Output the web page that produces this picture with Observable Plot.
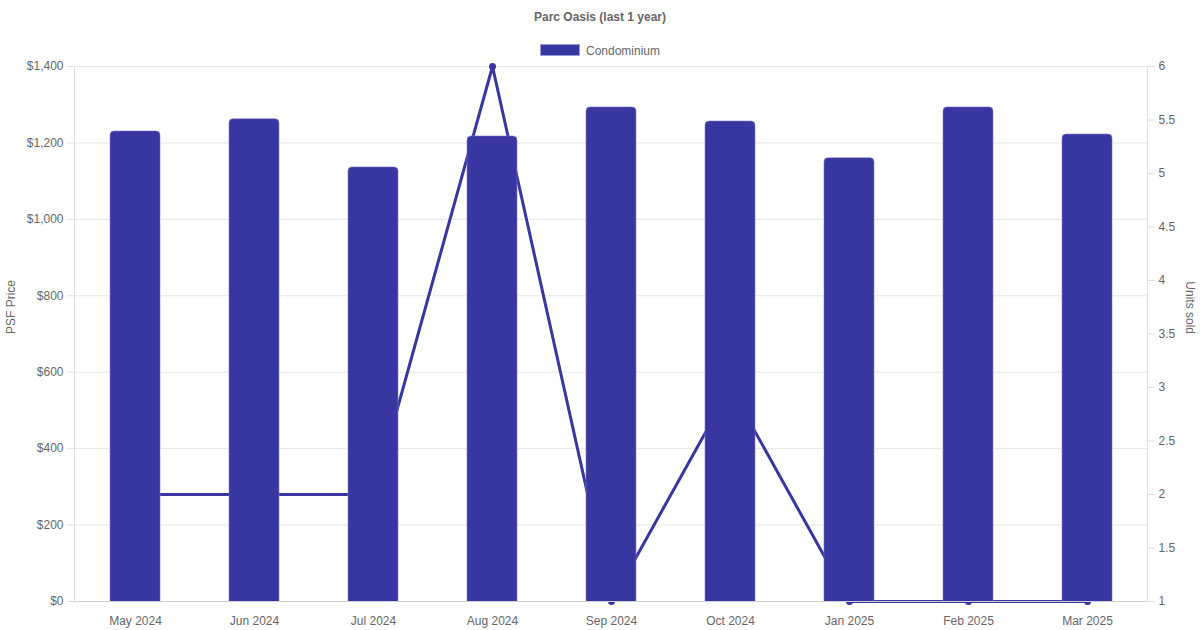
<!DOCTYPE html>
<html>
<head>
<meta charset="utf-8">
<script src="https://cdn.jsdelivr.net/npm/d3@7"></script>
<script src="https://cdn.jsdelivr.net/npm/@observablehq/plot@0.6"></script>
<style>
  html, body { margin: 0; padding: 0; background: #fff; }
  body { width: 1200px; height: 630px; overflow: hidden; font-family: "Liberation Sans", Arial, Helvetica, sans-serif; }
  #wrap { position: relative; width: 1200px; height: 630px; }
  #head { position: relative; width: 1200px; height: 56px; }
  #title { position: absolute; left: 0; width: 1200px; top: 9px; text-align: center; font-size: 12px; font-weight: bold; color: #666; line-height: 16px; }
  #legend { position: absolute; top: 43px; left: 0; width: 1200px; text-align: center; font-size: 12px; color: #666; line-height: 16px; }
  #legend .sw { display: inline-block; width: 38px; height: 10px; background: #3836A0; border: 1px solid #9a98d2; vertical-align: -1px; margin-right: 6px; }
  #chart svg { display: block; }
</style>
</head>
<body>
<div id="wrap">
  <div id="head">
    <div id="title"></div>
    <div id="legend"><span class="sw"></span><span id="legendLabel"></span></div>
  </div>
  <div id="chart"></div>
</div>
<script>
const titleText = "Parc Oasis (last 1 year)";
const seriesName = "Condominium";
const months = ["May 2024", "Jun 2024", "Jul 2024", "Aug 2024", "Sep 2024", "Oct 2024", "Jan 2025", "Feb 2025", "Mar 2025"];
const psf = [1230, 1262, 1136, 1217, 1293, 1256, 1160, 1293, 1222];
const unitsSold = [2, 2, 2, 6, 1, 3, 1, 1, 1];
const leftTicks = [0, 200, 400, 600, 800, 1000, 1200, 1400];
const rightTicks = [1, 1.5, 2, 2.5, 3, 3.5, 4, 4.5, 5, 5.5, 6];
const leftLabel = "PSF Price";
const rightLabel = "Units sold";

const color = "#3836A0";
const textColor = "#666";

document.getElementById("title").textContent = titleText;
document.getElementById("legendLabel").textContent = seriesName;

// map the right-axis (units) domain [1, 6] onto the left y scale domain [0, 1400]
const uMin = rightTicks[0], uMax = rightTicks[rightTicks.length - 1];
const yMax = leftTicks[leftTicks.length - 1];
const u2y = u => (u - uMin) / (uMax - uMin) * yMax;
const y2u = y => y / yMax * (uMax - uMin) + uMin;

const rows = months.map((m, i) => ({month: m, psf: psf[i], units: unitsSold[i]}));

const chart = Plot.plot({
  width: 1200,
  height: 574,
  marginTop: 10,
  marginBottom: 29,
  marginLeft: 74,
  marginRight: 53,
  style: {fontFamily: '"Liberation Sans", Arial, Helvetica, sans-serif', fontSize: "12px", color: textColor, background: "#fff"},
  x: {type: "band", domain: months, paddingInner: 0.58, paddingOuter: 0.29, label: null},
  y: {domain: [0, yMax], label: null},
  marks: [
    Plot.gridY(leftTicks, {stroke: "#e6e6e6", strokeOpacity: 1}),
    Plot.axisY(leftTicks, {anchor: "left", tickSize: 7, tickPadding: 4, stroke: "#e0e0e0", fill: textColor, fontSize: 12, tickFormat: d => "$" + d3.format(",")(d), label: null}),
    Plot.axisY(rightTicks.map(u2y), {anchor: "right", tickSize: 7, tickPadding: 4, stroke: "#e0e0e0", fill: textColor, fontSize: 12, tickFormat: d => d3.format("~g")(y2u(d)), label: null}),
    Plot.axisX({anchor: "bottom", tickSize: 0, tickPadding: 15, fill: textColor, fontSize: 12, label: null}),
    Plot.frame({anchor: "left", stroke: "#e0e0e0"}),
    Plot.frame({anchor: "right", stroke: "#e0e0e0"}),
    Plot.line(rows, {x: "month", y: d => u2y(d.units), stroke: color, strokeWidth: 3}),
    Plot.dot(rows, {x: "month", y: d => u2y(d.units), r: 3.5, fill: color, stroke: null}),
    Plot.barY(rows, {x: "month", y: "psf", fill: color, stroke: "#7f7dc4", strokeWidth: 0.6, rx: 4, insetBottom: -6, clip: true}),
    Plot.ruleY([0], {stroke: "#cfcfcf"}),
    Plot.text([leftLabel], {frameAnchor: "left", dx: -63, rotate: -90, fill: textColor, fontSize: 12}),
    Plot.text([rightLabel], {frameAnchor: "right", dx: 42, rotate: 90, fill: textColor, fontSize: 12})
  ]
});
document.getElementById("chart").appendChild(chart);
</script>
</body>
</html>
